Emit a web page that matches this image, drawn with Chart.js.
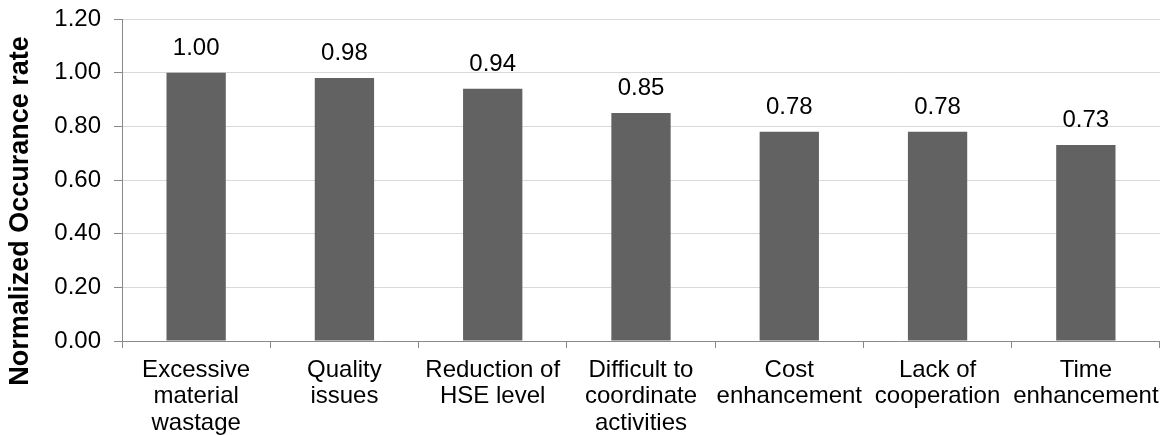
<!DOCTYPE html>
<html>
<head>
<meta charset="utf-8">
<script src="https://cdn.jsdelivr.net/npm/chart.js@4/dist/chart.umd.min.js"></script>
<style>
  html, body { margin: 0; padding: 0; background: #ffffff; }
  #wrap { width: 1168px; height: 435px; }
</style>
</head>
<body>
<div id="wrap"><canvas id="c" width="1168" height="435"></canvas></div>
<script>
// Categories (wrapped into lines as drawn under the axis)
const categories = [
  ["Excessive", "material", "wastage"],
  ["Quality", "issues"],
  ["Reduction of", "HSE level"],
  ["Difficult to", "coordinate", "activities"],
  ["Cost", "enhancement"],
  ["Lack of", "cooperation"],
  ["Time", "enhancement"]
];
// Normalized occurrence rate per category
const occurrenceRates = [1.00, 0.98, 0.94, 0.85, 0.78, 0.78, 0.73];
// Value axis ticks
const yTickValues = [0.00, 0.20, 0.40, 0.60, 0.80, 1.00, 1.20];
const yAxisTitle = "Normalized Occurance rate";

const FONT_FAMILY = '"Liberation Sans", Arial, Helvetica, sans-serif';
const AXIS_GREY = '#898989';

// Value printed above each bar
const valueLabels = {
  id: 'valueLabels',
  afterDatasetsDraw(chart) {
    const ctx = chart.ctx;
    const meta = chart.getDatasetMeta(0);
    ctx.save();
    ctx.font = '24px ' + FONT_FAMILY;
    ctx.fillStyle = '#000000';
    ctx.textAlign = 'center';
    ctx.textBaseline = 'alphabetic';
    meta.data.forEach((bar, i) => {
      ctx.fillText(occurrenceRates[i].toFixed(2), bar.x, bar.y - 18);
    });
    ctx.restore();
  }
};

// Rotated value-axis title, centred on the full chart height
const sideTitle = {
  id: 'sideTitle',
  afterDraw(chart) {
    const ctx = chart.ctx;
    ctx.save();
    ctx.translate(21, 211);
    ctx.rotate(-Math.PI / 2);
    ctx.font = 'bold 27px ' + FONT_FAMILY;
    ctx.fillStyle = '#000000';
    ctx.textAlign = 'center';
    ctx.textBaseline = 'middle';
    ctx.fillText(yAxisTitle, 0, 0);
    ctx.restore();
  }
};

new Chart(document.getElementById('c'), {
  type: 'bar',
  data: {
    labels: categories,
    datasets: [{
      data: occurrenceRates,
      backgroundColor: '#626262',
      borderWidth: 0,
      barPercentage: 0.4,
      categoryPercentage: 1.0
    }]
  },
  options: {
    responsive: false,
    animation: false,
    devicePixelRatio: 1,
    layout: { padding: { left: 40, top: 19, right: 6, bottom: 0 } },
    plugins: {
      legend: { display: false },
      tooltip: { enabled: false }
    },
    scales: {
      x: {
        offset: true,
        afterFit(scale) { scale.height = 94; },
        grid: {
          offset: true,
          drawOnChartArea: false,
          drawTicks: true,
          tickLength: 7,
          tickColor: AXIS_GREY,
          tickWidth: 1
        },
        border: { display: true, color: AXIS_GREY, width: 1 },
        ticks: {
          color: '#000000',
          padding: 9,
          maxRotation: 0,
          autoSkip: false,
          font: { family: FONT_FAMILY, size: 24, lineHeight: 1.1 }
        }
      },
      y: {
        min: 0,
        max: 1.2,
        afterFit(scale) {
          scale.width = 82;
          scale.paddingTop = 0;
          scale.paddingBottom = 0;
        },
        afterBuildTicks(scale) { scale.ticks = yTickValues.map(v => ({ value: v })); },
        grid: {
          color: '#d9d9d9',
          lineWidth: 1,
          drawTicks: true,
          tickLength: 8,
          tickColor: AXIS_GREY,
          tickWidth: 1
        },
        border: { display: true, color: AXIS_GREY, width: 1 },
        ticks: {
          color: '#000000',
          padding: 13,
          font: { family: FONT_FAMILY, size: 24 },
          callback: (v) => Number(v).toFixed(2)
        }
      }
    }
  },
  plugins: [valueLabels, sideTitle]
});
</script>
</body>
</html>
